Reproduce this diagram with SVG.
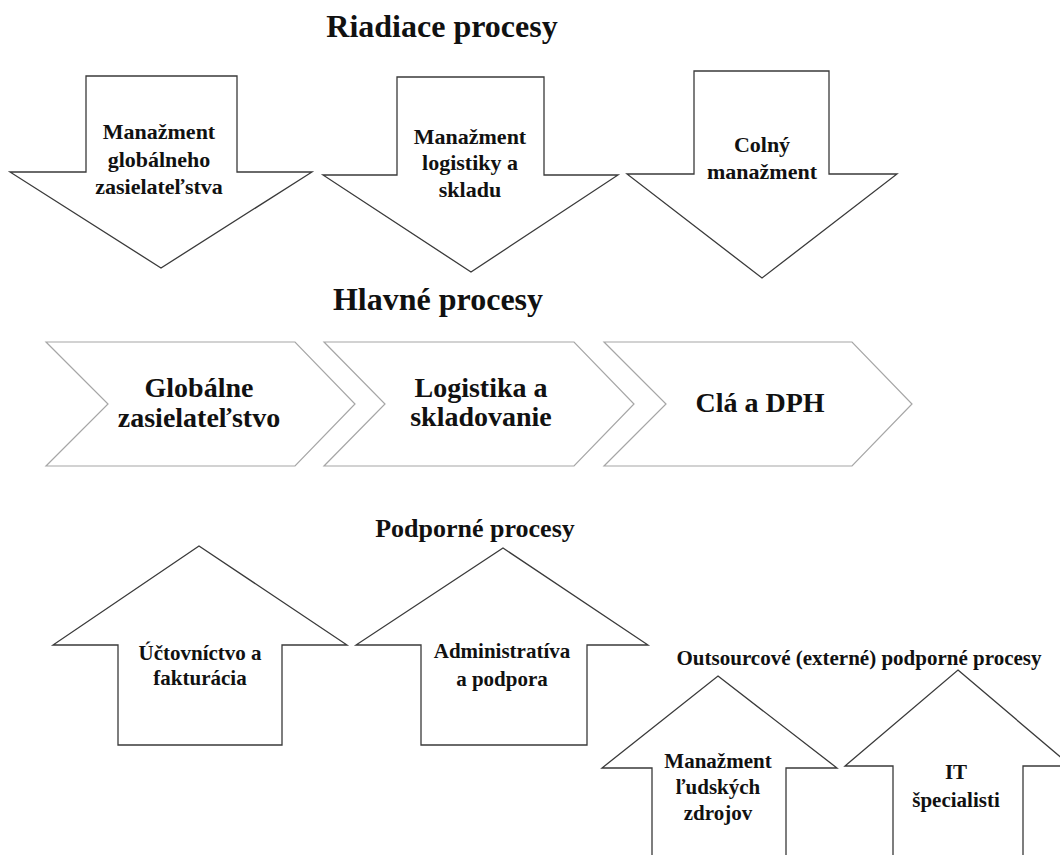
<svg xmlns="http://www.w3.org/2000/svg" width="1060" height="855" viewBox="0 0 1060 855">
<style>
.bg{fill:#ffffff}
.arr{fill:#ffffff;stroke:#3a3a3a;stroke-width:1.3;stroke-linejoin:miter}
.chev{fill:#ffffff;stroke:#a6a6a6;stroke-width:1.2}
text{font-family:"Liberation Serif","Times New Roman",serif;font-weight:bold;fill:#111111;text-anchor:middle}
.title{font-size:32px}
.sub{font-size:26px}
.ext{font-size:21px}
.t22{font-size:22px}
.t21{font-size:21px}
.t28{font-size:28px}
</style>
<rect class="bg" x="0" y="0" width="1060" height="855"/>

<g id="titles">
<text class="title" x="442" y="37">Riadiace procesy</text>
<text class="title" x="438" y="310">Hlavné procesy</text>
<text class="sub" x="475" y="537">Podporné procesy</text>
<text class="ext" x="859" y="665">Outsourcové (externé) podporné procesy</text>
</g>

<g id="riadiaci-1">
<polygon class="arr" points="86,76 237,76 237,172 312,172 161,268 10,172 86,172"/>
<text class="t22" x="159" y="139">Manažment</text>
<text class="t22" x="159" y="167">globálneho</text>
<text class="t22" x="159" y="194">zasielateľstva</text>
</g>
<g id="riadiaci-2">
<polygon class="arr" points="397,77 544,77 544,175 618,175 471,272 323,175 397,175"/>
<text class="t22" x="470" y="144">Manažment</text>
<text class="t22" x="470" y="170">logistiky a</text>
<text class="t22" x="470" y="197">skladu</text>
</g>
<g id="riadiaci-3">
<polygon class="arr" points="694,71 829,71 829,174 897,174 762,278 627,174 694,174"/>
<text class="t22" x="762" y="152">Colný</text>
<text class="t22" x="762" y="179">manažment</text>
</g>

<g id="hlavny-1">
<polygon class="chev" points="46,342 295,342 355,404 295,466 46,466 108,404"/>
<text class="t28" x="199" y="397">Globálne</text>
<text class="t28" x="199" y="427">zasielateľstvo</text>
</g>
<g id="hlavny-2">
<polygon class="chev" points="324,342 574,342 634,404 574,466 324,466 385,404"/>
<text class="t28" x="481" y="397">Logistika a</text>
<text class="t28" x="481" y="426">skladovanie</text>
</g>
<g id="hlavny-3">
<polygon class="chev" points="604,342 852,342 912,404 852,466 604,466 666,404"/>
<text class="t28" x="760" y="412">Clá a DPH</text>
</g>

<g id="podporny-1">
<polygon class="arr" points="199,546 347,645 282,645 282,745 118,745 118,645 53,645"/>
<text class="t21" x="200" y="660">Účtovníctvo a</text>
<text class="t21" x="200" y="685">fakturácia</text>
</g>
<g id="podporny-2">
<polygon class="arr" points="503,548 648,645 587,645 587,745 421,745 421,645 356,645"/>
<text class="t21" x="502" y="658">Administratíva</text>
<text class="t21" x="502" y="686">a podpora</text>
</g>
<g id="externy-1">
<polygon class="arr" points="718,676 837,768 786,768 786,860 652,860 652,768 602,768"/>
<text class="t21" x="718" y="768">Manažment</text>
<text class="t21" x="718" y="794">ľudských</text>
<text class="t21" x="718" y="820">zdrojov</text>
</g>
<g id="externy-2">
<polygon class="arr" points="958,670 1071,766 1023,766 1023,860 893,860 893,766 845,766"/>
<text class="t21" x="956" y="779">IT</text>
<text class="t21" x="956" y="807">špecialisti</text>
</g>
</svg>
